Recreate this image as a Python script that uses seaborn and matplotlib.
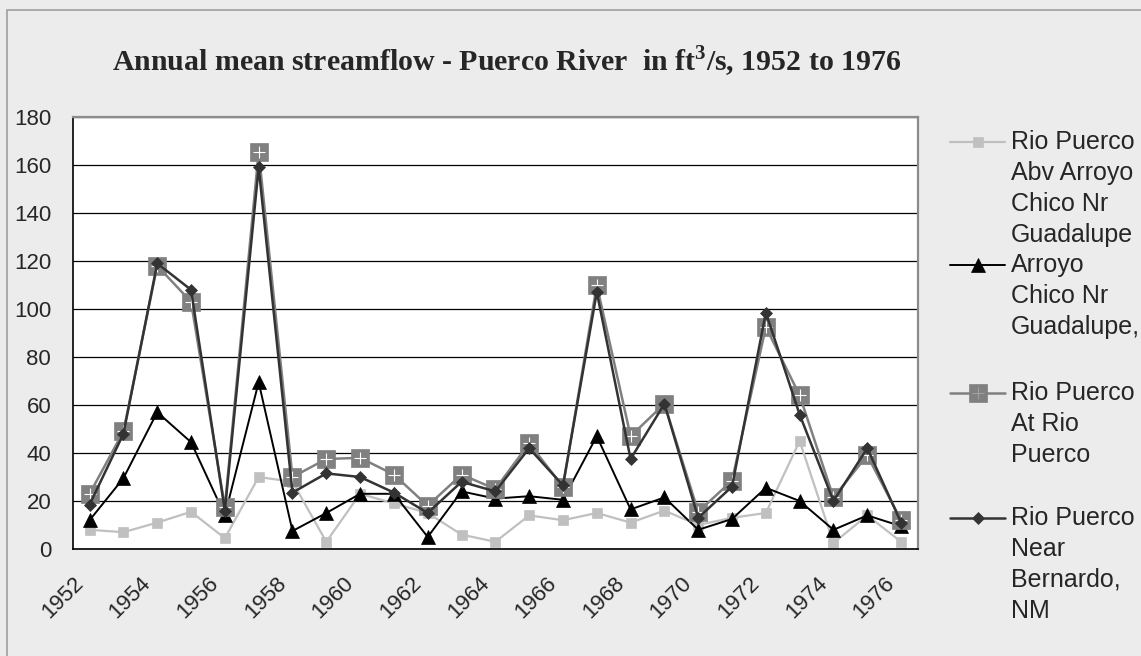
import numpy as np
import pandas as pd
import seaborn as sns
import matplotlib.pyplot as plt
from matplotlib.lines import Line2D
from matplotlib.patches import Rectangle

years = list(range(1952, 1977))
abv_arroyo = [8, 7, 11, 15.5, 4.5, 30, 28, 3, 23, 19, 15, 6, 3, 14, 12, 15, 11, 16, 10, 13, 15, 45, 2.5, 14, 3]
arroyo_chico = [12, 29.5, 57, 44.5, 14, 69.5, 7.5, 15, 23, 23, 5, 24, 21, 22, 20.5, 47, 16.5, 21.5, 8, 12.5, 25.5, 20, 8, 14, 9.5]
at_rio_puerco = [23, 49, 118, 103, 17.5, 165.5, 30, 37.5, 38, 31, 18, 31, 25, 44, 26, 110, 47, 60.5, 15.5, 28.5, 92.5, 64, 21.5, 39, 12]
near_bernardo = [18.5, 48, 119, 108, 16, 159, 23.5, 31.5, 30, 23.5, 15, 28, 24, 42, 26.5, 107, 37.5, 60.5, 13, 26, 98.5, 56, 20, 42, 11]

legend_labels = [
    "Rio Puerco\nAbv Arroyo\nChico Nr\nGuadalupe",
    "Arroyo\nChico Nr\nGuadalupe,",
    "Rio Puerco\nAt Rio\nPuerco",
    "Rio Puerco\nNear\nBernardo,\nNM",
]
y_ticks = list(range(0, 181, 20))

W, H = 1141, 656
sns.set_style("white")
plt.rcParams["font.family"] = ["Liberation Sans", "DejaVu Sans"]
plt.rcParams["mathtext.fontset"] = "custom"
plt.rcParams["mathtext.rm"] = "Liberation Serif:bold"

fig = plt.figure(figsize=(W / 100, H / 100), dpi=100, facecolor="#ECECEC")
ax = fig.add_axes([72.7 / W, 1 - 549 / H, (918 - 72.7) / W, (549 - 117) / H])
ax.set_facecolor("white")

df = pd.DataFrame({"year": years, "abv": abv_arroyo, "chico": arroyo_chico,
                   "atrio": at_rio_puerco, "bern": near_bernardo})

styles = [
    ("abv", "#C0C0C0", "s", 7.5, 1.6),
    ("chico", "black", "^", 9.5, 1.4),
    ("atrio", "#808080", "s", 12.5, 1.8),
    ("bern", "#333333", "D", 6.5, 1.8),
]
cross_color = "#A0A0A0"
for col, c, m, ms, lw in styles:
    sns.lineplot(data=df, x="year", y=col, ax=ax, color=c, marker=m, markersize=ms,
                 linewidth=lw, markeredgecolor=c, markeredgewidth=0.5, legend=False)
    if col == "atrio":
        sns.lineplot(data=df, x="year", y=col, ax=ax, color=cross_color, marker="+",
                     markersize=8, linestyle="none", markeredgewidth=0.8, legend=False)

# axes styling
ax.set_xlim(years[0] - 0.5, years[-1] + 0.5)
ax.set_ylim(0, 180)
ax.set_yticks(y_ticks)
ax.set_yticklabels([str(v) for v in y_ticks], fontsize=16)
bounds = [y - 0.5 for y in years] + [years[-1] + 0.5]
xlabels = [str(years[k]) if k % 2 == 0 and k < len(years) else "" for k in range(len(bounds))]
ax.set_xticks(bounds)
ax.set_xticklabels(xlabels, fontsize=16, rotation=45, ha="right", rotation_mode="anchor")
ax.tick_params(axis="y", direction="out", length=6.5, width=1.1, color="black", pad=9)
ax.tick_params(axis="x", direction="out", length=5.8, width=1.1, color="black", pad=11)
ax.set_xlabel("")
ax.set_ylabel("")
ax.yaxis.grid(True, color="black", linewidth=0.9)
ax.xaxis.grid(False)
ax.set_axisbelow(True)
for s in ["left", "bottom"]:
    ax.spines[s].set_color("black")
    ax.spines[s].set_linewidth(1.2)
for s in ["top", "right"]:
    ax.spines[s].set_color("#8C8C8C")
    ax.spines[s].set_linewidth(1.6)

# title
fig.text(507 / W, 1 - 71 / H, r"Annual mean streamflow - Puerco River  in ft$^{3}$/s, 1952 to 1976",
         ha="center", va="baseline", fontsize=21.5, fontweight="bold",
         family=["Liberation Serif", "DejaVu Serif"])

# chart border (cut off at right/bottom)
fig.patches.append(Rectangle((6.5 / W, -0.2), 1.5, 1 - 10 / H + 0.2, transform=fig.transFigure,
                             fill=False, edgecolor="#A0A0A0", linewidth=1.2))

# legend
item_y = [142, 265, 393, 518]
for (col, c, m, ms, lw), label, y0 in zip(styles, legend_labels, item_y):
    yf = 1 - y0 / H
    fig.add_artist(Line2D([950 / W, 1005 / W], [yf, yf], transform=fig.transFigure,
                          color=c, linewidth=lw))
    fig.add_artist(Line2D([977.5 / W], [yf], transform=fig.transFigure, color=c,
                          marker=m, markersize=ms, markeredgecolor=c, markeredgewidth=0.5))
    if col == "atrio":
        fig.add_artist(Line2D([977.5 / W], [yf], transform=fig.transFigure, color=cross_color,
                              marker="+", markersize=8, markeredgewidth=0.8, linestyle="none"))
    for k, line in enumerate(label.split("\n")):
        fig.text(1011 / W, 1 - (y0 + 31 * k) / H, line, ha="left", va="center", fontsize=18)

fig.savefig("out.png", dpi=100, facecolor=fig.get_facecolor())
